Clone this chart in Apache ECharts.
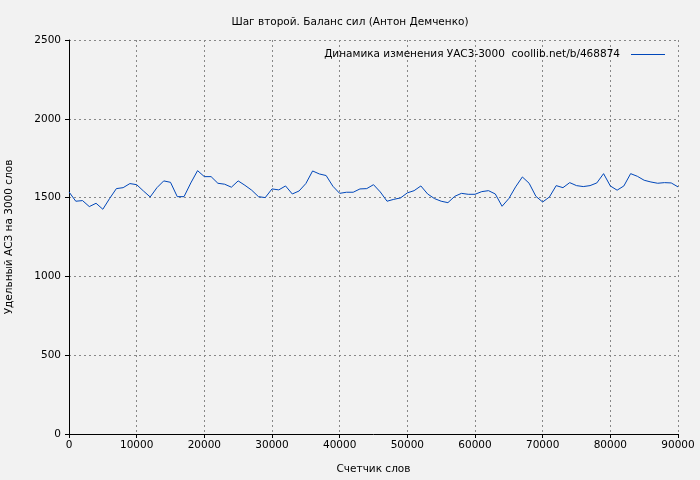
<!DOCTYPE html>
<html>
<head>
<meta charset="utf-8">
<script src="https://cdn.jsdelivr.net/npm/echarts@6/dist/echarts.min.js"></script>
<style>html,body{margin:0;background:#f2f2f2}#graph{width:700px;height:480px}</style>
</head>
<body>
<div id="graph"></div>
<script>
// word counter positions, every 1000 words
var words = [];
for (var i = 0; i <= 90; i++) words.push(i * 1000);

// UAS3-3000 values
var uas = [
    1536, 1477, 1481, 1443, 1464, 1426, 1494, 1557, 1563, 1589,
    1582, 1542, 1504, 1563, 1606, 1597, 1506, 1506, 1593, 1671,
    1633, 1633, 1591, 1585, 1566, 1606, 1578, 1547, 1506, 1500,
    1555, 1549, 1574, 1523, 1542, 1589, 1669, 1650, 1640, 1572,
    1527, 1534, 1534, 1555, 1557, 1582, 1536, 1477, 1489, 1498,
    1530, 1544, 1574, 1523, 1494, 1477, 1468, 1508, 1527, 1521,
    1521, 1538, 1544, 1523, 1445, 1494, 1568, 1631, 1591, 1508,
    1472, 1504, 1576, 1563, 1595, 1576, 1570, 1576, 1593, 1652,
    1574, 1547, 1574, 1652, 1635, 1610, 1599, 1591, 1595, 1593,
    1568
];

var points = words.map(function (w, k) { return [w, uas[k]]; });

var chart = echarts.init(document.getElementById('graph'));
var font = 'DejaVu Sans';
var gridLine = { show: true, lineStyle: { color: '#888', type: [2, 3], width: 1 } };
var legendName = 'Динамика изменения УАС3-3000  coollib.net/b/468874';

chart.setOption({
    backgroundColor: '#f2f2f2',
    animation: false,
    textStyle: { fontFamily: font },
    title: {
        text: 'Шаг второй. Баланс сил (Антон Демченко)',
        left: 'center', top: 12,
        textStyle: { fontSize: 10.5, fontWeight: 'normal', color: '#000', fontFamily: font }
    },
    legend: {
        data: [legendName],
        right: 30, top: 44, itemWidth: 34, itemHeight: 1, itemGap: 8,
        align: 'right',
        icon: 'rect',
        textStyle: { fontSize: 10.5, color: '#000', fontFamily: font, padding: [0, 6, 0, 0] }
    },
    grid: { left: 69, right: 22, top: 40, bottom: 46, outerBoundsMode: 'none', containLabel: false },
    xAxis: {
        type: 'value', min: 0, max: 90000, interval: 10000,
        name: 'Счетчик слов', nameLocation: 'middle', nameGap: 30,
        nameTextStyle: { fontSize: 10.5, color: '#000' },
        axisLine: { lineStyle: { color: '#000', width: 1 } },
        axisTick: { inside: false, length: 4, lineStyle: { color: '#000' } },
        axisLabel: { fontSize: 10.5, color: '#000', margin: 6, formatter: function (v) { return String(v); } },
        splitLine: gridLine
    },
    yAxis: {
        type: 'value', min: 0, max: 2500, interval: 500,
        name: 'Удельный АСЗ на 3000 слов', nameLocation: 'middle', nameGap: 54,
        nameTextStyle: { fontSize: 10.5, color: '#000' },
        axisLine: { show: true, lineStyle: { color: '#000', width: 1 } },
        axisTick: { show: true, length: 4, lineStyle: { color: '#000' } },
        axisLabel: { fontSize: 10.5, color: '#000', margin: 8, formatter: function (v) { return String(v); } },
        splitLine: gridLine
    },
    series: [{
        name: legendName,
        type: 'line',
        data: points,
        showSymbol: false,
        lineStyle: { color: '#0047ba', width: 1 },
        itemStyle: { color: '#0047ba' }
    }]
});
</script>
</body>
</html>
